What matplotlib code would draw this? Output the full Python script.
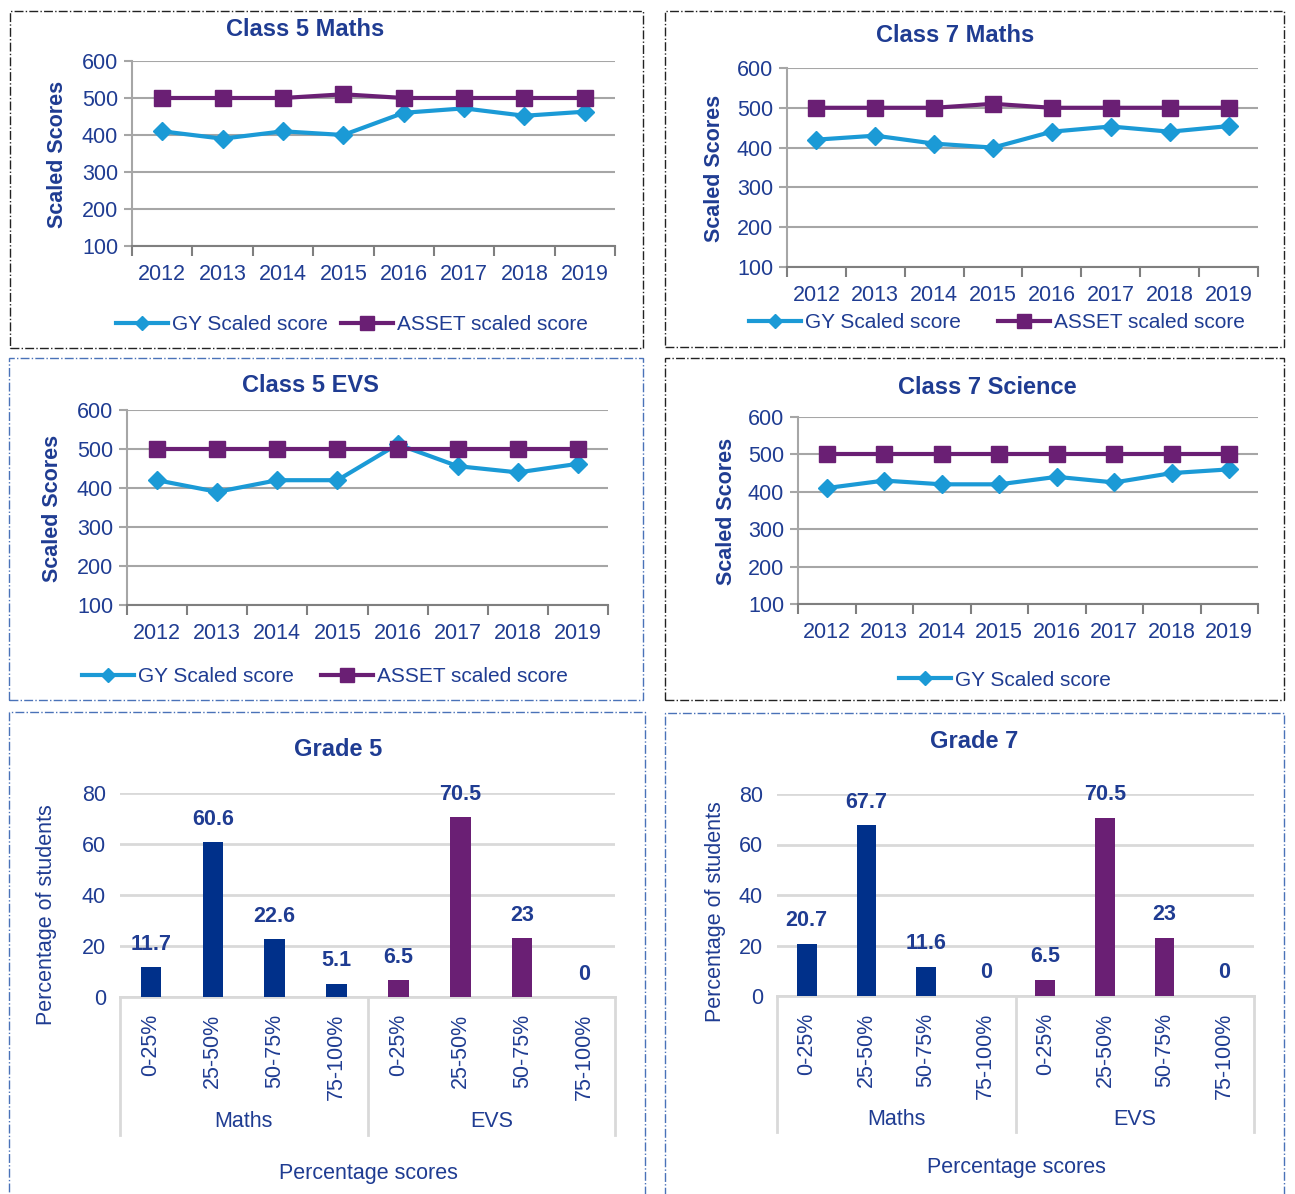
import matplotlib
matplotlib.use('Agg')
import matplotlib.pyplot as plt
from matplotlib.patches import Rectangle
from matplotlib.lines import Line2D

plt.rcParams['font.family'] = ['Liberation Sans', 'DejaVu Sans']

years = ['2012', '2013', '2014', '2015', '2016', '2017', '2018', '2019']

c5_maths_gy = [410, 390, 410, 400, 460, 472, 452, 463]
c5_maths_asset = [500, 500, 500, 510, 500, 500, 500, 500]
c7_maths_gy = [420, 430, 410, 400, 440, 453, 440, 454]
c7_maths_asset = [500, 500, 500, 510, 500, 500, 500, 500]
c5_evs_gy = [420, 390, 420, 420, 512, 456, 440, 462]
c5_evs_asset = [500, 500, 500, 500, 500, 500, 500, 500]
c7_sci_gy = [410, 430, 420, 420, 440, 425, 450, 460]
c7_sci_asset = [500, 500, 500, 500, 500, 500, 500, 500]

bins = ['0-25%', '25-50%', '50-75%', '75-100%']
subjects = ['Maths', 'EVS']
grade5 = [11.7, 60.6, 22.6, 5.1, 6.5, 70.5, 23, 0]
grade7 = [20.7, 67.7, 11.6, 0, 6.5, 70.5, 23, 0]

W, H = 1295, 1194
TXT = '#1F3C92'
GY = '#1B9AD6'
ASSET = '#6A1F74'
NAVY = '#00308A'
FS = 15.5

fig = plt.figure(figsize=(W / 100, H / 100), dpi=100)


def px(x, y):
    return (x / W, 1 - y / H)


def box(l, t, r, b):
    return [l / W, 1 - b / H, (r - l) / W, (b - t) / H]


def border(l, t, r, b, color):
    fig.patches.append(Rectangle(px(l, b), (r - l) / W, (b - t) / H, transform=fig.transFigure,
                                 fill=False, ec=color, lw=1, ls='-.'))


def line_panel(axbox, gy, asset, title, tpos, ylpos, legpos, both=True, colsp=0.6):
    ax = fig.add_axes(box(*axbox))
    x = range(len(years))
    l1, = ax.plot(x, gy, color=GY, lw=3, marker='D', ms=9, label='GY Scaled score')
    l2, = ax.plot(x, asset, color=ASSET, lw=3, marker='s', ms=11, label='ASSET scaled score')
    ax.set_xlim(-0.5, len(years) - 0.5)
    ax.set_ylim(100, 600)
    ax.set_yticks(range(100, 601, 100))
    ax.grid(axis='y', color='#A6A6A6', lw=1.5)
    ax.set_axisbelow(True)
    ax.set_xticks(list(x))
    ax.set_xticklabels(years)
    ax.set_xticks([i - 0.5 for i in range(len(years) + 1)], minor=True)
    ax.tick_params(axis='x', which='major', length=0, pad=13, labelsize=FS, labelcolor=TXT)
    ax.tick_params(axis='x', which='minor', length=7, width=1.5, color='#7F7F7F')
    ax.tick_params(axis='y', length=6, width=1.5, color='#A6A6A6', labelsize=FS, labelcolor=TXT, pad=4)
    for s in ['top', 'right']:
        ax.spines[s].set_visible(False)
    ax.spines['left'].set_color('#A6A6A6')
    ax.spines['left'].set_linewidth(1.5)
    ax.spines['bottom'].set_color('#7F7F7F')
    ax.spines['bottom'].set_linewidth(1.5)
    fig.text(*px(*tpos), title, ha='center', va='center', fontsize=17, fontweight='bold', color=TXT)
    fig.text(*px(*ylpos), 'Scaled Scores', ha='center', va='center', rotation=90,
             fontsize=15.5, fontweight='bold', color=TXT)
    handles = [l1, l2] if both else [l1]
    h = [Line2D([], [], color=GY, lw=3, marker='D', ms=7),
         Line2D([], [], color=ASSET, lw=3, marker='s', ms=10)][:len(handles)]
    fig.legend(h, [hh.get_label() for hh in handles], loc='center', bbox_to_anchor=px(*legpos),
               ncol=2, frameon=False, fontsize=15, labelcolor=TXT, handlelength=2.5,
               handletextpad=0.2, columnspacing=colsp)
    return ax


def bar_panel(axbox, vals, title, tpos, ylpos, xlpos):
    ax = fig.add_axes(box(*axbox))
    x = list(range(len(vals)))
    colors = [NAVY] * len(bins) + [ASSET] * len(bins)
    ax.bar(x, vals, width=0.33, color=colors, zorder=3)
    for xi, v in zip(x, vals):
        ax.annotate(f'{v:g}', (xi, v), xytext=(0, 9), textcoords='offset points', ha='center',
                    va='bottom', fontsize=15.5, fontweight='bold', color=TXT)
    ax.set_xlim(-0.5, len(vals) - 0.5)
    ax.set_ylim(0, 80)
    ax.set_yticks(range(0, 81, 20))
    ax.grid(axis='y', color='#D9D9D9', lw=2)
    ax.set_axisbelow(True)
    ax.set_xticks(x)
    ax.set_xticklabels(bins * len(subjects), rotation=90)
    ax.tick_params(axis='x', length=0, pad=12, labelsize=FS, labelcolor=TXT)
    ax.tick_params(axis='y', length=0, labelsize=FS, labelcolor=TXT, pad=10)
    for s in ['top', 'right', 'left']:
        ax.spines[s].set_visible(False)
    ax.spines['bottom'].set_color('#D9D9D9')
    ax.spines['bottom'].set_linewidth(2)
    tr = ax.get_xaxis_transform()
    for i in range(len(subjects) + 1):
        xb = i * len(bins) - 0.5
        ax.plot([xb, xb], [0, -0.675], color='#D9D9D9', lw=2, transform=tr, clip_on=False)
    for i, s in enumerate(subjects):
        ax.text(i * len(bins) + (len(bins) - 1) / 2, -0.61, s, transform=tr, ha='center',
                va='center', fontsize=FS, color=TXT)
    fig.text(*px(*tpos), title, ha='center', va='center', fontsize=17, fontweight='bold', color=TXT)
    fig.text(*px(*ylpos), 'Percentage of students', ha='center', va='center', rotation=90,
             fontsize=FS, color=TXT)
    fig.text(*px(*xlpos), 'Percentage scores', ha='center', va='center', fontsize=FS, color=TXT)
    return ax


BLUE_B = '#4A72B8'
border(10, 11, 643, 348, '#222222')
border(665, 11, 1284, 347, '#222222')
border(9, 358, 643, 700, BLUE_B)
border(665, 358, 1284, 700, '#222222')
border(9, 712, 645, 1210, BLUE_B)
border(665, 713, 1284, 1210, BLUE_B)

line_panel((132, 61, 615, 246), c5_maths_gy, c5_maths_asset, 'Class 5 Maths', (305, 29), (58, 154), (352, 325))
line_panel((787, 68, 1258, 267), c7_maths_gy, c7_maths_asset, 'Class 7 Maths', (955, 35), (715, 168), (997, 323), colsp=1.8)
line_panel((127, 410, 608, 605), c5_evs_gy, c5_evs_asset, 'Class 5 EVS', (310, 386), (53, 508), (325, 677), colsp=1.3)
line_panel((798, 417, 1258, 604), c7_sci_gy, c7_sci_asset, 'Class 7 Science', (987, 387), (726, 511), (1005, 680), both=False)

bar_panel((120, 793, 615, 997), grade5, 'Grade 5', (338, 750), (47, 915), (368, 1173))
bar_panel((777, 794, 1254, 996), grade7, 'Grade 7', (974, 741), (715, 912), (1016, 1167))

fig.savefig('out.png', dpi=100)
